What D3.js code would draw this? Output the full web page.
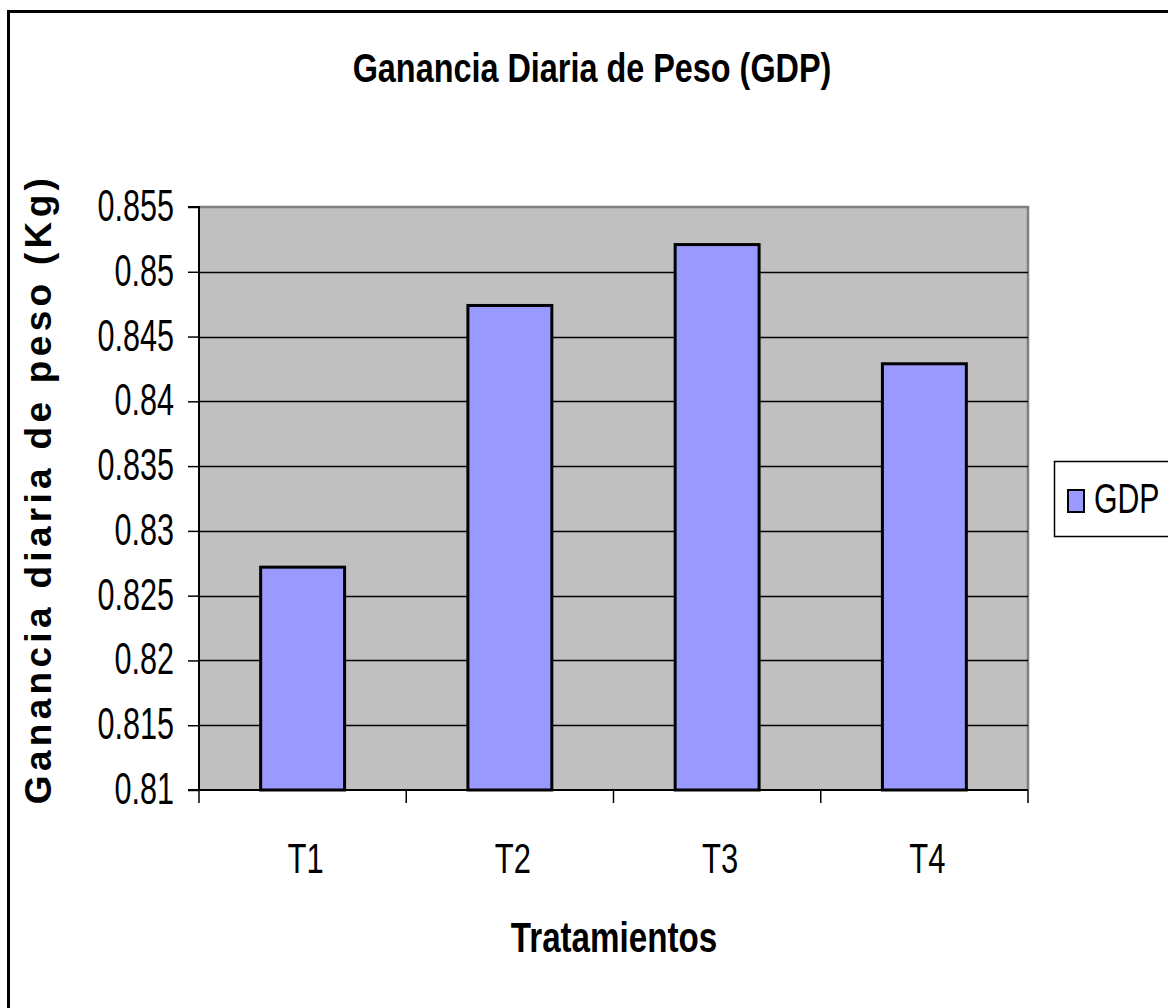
<!DOCTYPE html>
<html><head><meta charset="utf-8">
<script src="https://cdn.jsdelivr.net/npm/d3@7"></script>
<style>
html,body{margin:0;padding:0;background:#fff;}
text{font-family:"Liberation Sans",Arial,sans-serif;fill:#000;}
</style></head>
<body>
<script>
const categories = ["T1","T2","T3","T4"];
const gdpValues = [0.8272, 0.8474, 0.8521, 0.8429];
const yTicks = [0.81,0.815,0.82,0.825,0.83,0.835,0.84,0.845,0.85,0.855];
const seriesName = "GDP";
const title = "Ganancia Diaria de Peso (GDP)";
const xTitle = "Tratamientos";
const yTitle = "Ganancia diaria de peso (Kg)";

const W = 1168, H = 1008;
const svg = d3.select("body").append("svg").attr("width", W).attr("height", H);

// outer frame
svg.append("rect").attr("x", 8.5).attr("y", 11.5).attr("width", W + 10).attr("height", H + 10)
  .attr("fill", "#fff").attr("stroke", "#000").attr("stroke-width", 3);

const plot = {l: 199, t: 207, r: 1028, b: 790};
const x = d3.scaleBand().domain(categories).range([plot.l, plot.r]).paddingInner(0.595).paddingOuter(0.2975);
const y = d3.scaleLinear().domain([0.81, 0.855]).range([plot.b, plot.t]);

// helper for horizontally condensed text
function narrowText(g, tx, ty, sx, size, weight, anchor, str) {
  return g.append("text").attr("transform", `translate(${tx},${ty}) scale(${sx},1)`)
    .attr("text-anchor", anchor).style("font-size", size + "px").style("font-weight", weight).text(str);
}

// plot background
svg.append("rect").attr("x", plot.l).attr("y", plot.t).attr("width", plot.r - plot.l).attr("height", plot.b - plot.t)
  .attr("fill", "#c0c0c0");
svg.append("path").attr("d", `M${plot.l},${plot.t}H${plot.r}V${plot.b}`).attr("fill", "none")
  .attr("stroke", "#808080").attr("stroke-width", 2.5);

// gridlines
svg.append("g").selectAll("line").data(yTicks.filter(d => d > 0.81 && d < 0.855)).join("line")
  .attr("x1", plot.l).attr("x2", plot.r).attr("y1", d => Math.round(y(d)) + 0.5).attr("y2", d => Math.round(y(d)) + 0.5)
  .attr("stroke", "#000").attr("stroke-width", 1.5);

// bars
svg.append("g").selectAll("rect").data(gdpValues).join("rect")
  .attr("x", (d, i) => x(categories[i])).attr("width", x.bandwidth())
  .attr("y", d => y(d)).attr("height", d => y(0.81) - y(d))
  .attr("fill", "#9999ff").attr("stroke", "#000").attr("stroke-width", 3);

// y axis
const tickSx = 0.68;
const yAxis = d3.axisLeft(y).tickValues(yTicks).tickSize(11).tickPadding(14).tickFormat(d => d3.format("")(+d.toFixed(3)));
const gy = svg.append("g").attr("transform", `translate(${plot.l},0)`).call(yAxis);
gy.select(".domain").attr("stroke", "#000").attr("stroke-width", 2).attr("d", `M-11,${plot.b}H0V${plot.t}H-11`);
gy.selectAll(".tick line").attr("stroke", "#000").attr("stroke-width", 1.5);
gy.selectAll(".tick text").style("font-size", "45px").attr("dy", "0.3em")
  .attr("x", -25 / tickSx).attr("transform", `scale(${tickSx},1)`);

// x axis
const gx = svg.append("g").attr("transform", `translate(0,${plot.b})`);
gx.append("line").attr("x1", plot.l).attr("x2", plot.r).attr("y1", 0).attr("y2", 0).attr("stroke", "#000").attr("stroke-width", 2);
const edges = d3.range(categories.length + 1).map(i => plot.l + i * (plot.r - plot.l) / categories.length);
gx.selectAll("line.tk").data(edges).join("line").attr("class", "tk")
  .attr("x1", d => d).attr("x2", d => d).attr("y1", 0).attr("y2", 13).attr("stroke", "#000").attr("stroke-width", 1.5);
categories.forEach(c => narrowText(gx, x(c) + x.bandwidth() / 2 + 3, 83, 0.72, 43, "normal", "middle", c));

// titles
narrowText(svg, 592, 82, 0.81, 40, "bold", "middle", title);
narrowText(svg, 614, 952, 0.79, 42, "bold", "middle", xTitle);
svg.append("text").attr("transform", "translate(51,489) rotate(-90)").attr("text-anchor", "middle")
  .style("font-size", "37px").style("font-weight", "bold").style("letter-spacing", "4.3px").text(yTitle);

// legend
const lg = svg.append("g");
lg.append("rect").attr("x", 1054.5).attr("y", 461.5).attr("width", 130).attr("height", 75)
  .attr("fill", "#fff").attr("stroke", "#000").attr("stroke-width", 1.5);
lg.append("rect").attr("x", 1068).attr("y", 490).attr("width", 16).attr("height", 22)
  .attr("fill", "#9999ff").attr("stroke", "#000").attr("stroke-width", 2);
narrowText(lg, 1094, 513, 0.72, 42, "normal", "start", seriesName);
</script>
</body></html>
